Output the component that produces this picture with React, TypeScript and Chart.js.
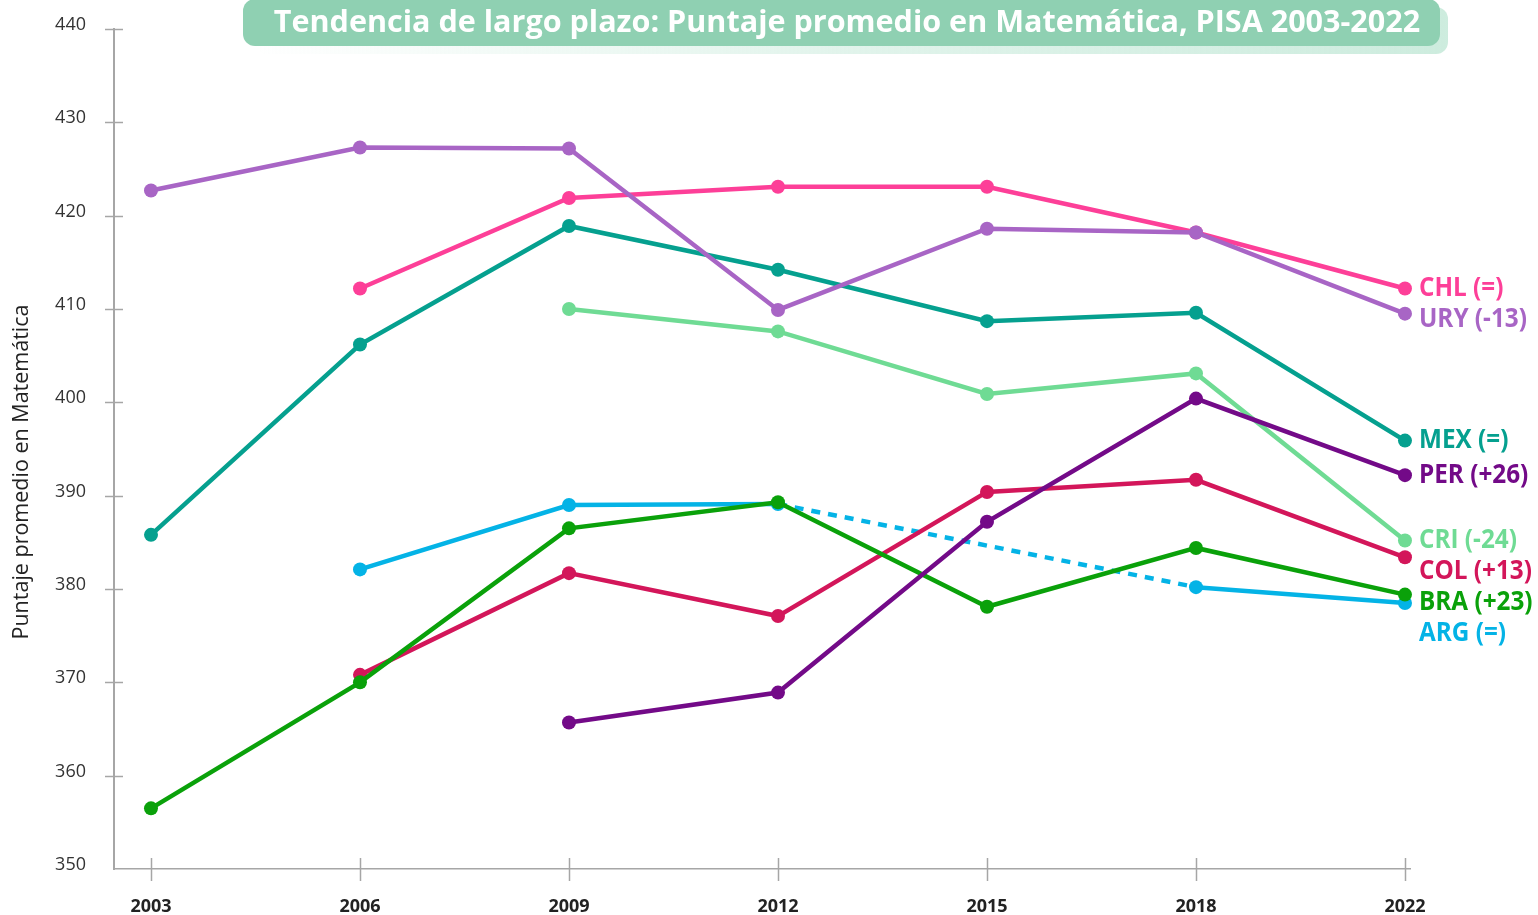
import React, { useEffect, useRef } from "react";
import { Chart, registerables } from "chart.js";

Chart.register(...registerables);

const years = ["2003", "2006", "2009", "2012", "2015", "2018", "2022"];
const countries = ["CHL", "URY", "MEX", "PER", "CRI", "COL", "BRA", "ARG"];
const changes = ["(=)", "(-13)", "(=)", "(+26)", "(-24)", "(+13)", "(+23)", "(=)"];
const colors = ["#fd3f98", "#a865c5", "#05a08f", "#730a88", "#6fdb94", "#d3165a", "#0aa10a", "#04b3e6"];
const drawOrder = [4, 0, 5, 1, 6, 3, 2, 7];

const chl = [null, 412.2, 421.9, 423.1, 423.1, 418.2, 412.2];
const ury = [422.7, 427.3, 427.2, 409.9, 418.6, 418.2, 409.5];
const mex = [385.8, 406.2, 418.9, 414.2, 408.7, 409.6, 395.9];
const per = [null, null, 365.7, 368.9, 387.2, 400.4, 392.2];
const cri = [null, null, 410.0, 407.6, 400.9, 403.1, 385.2];
const col = [null, 370.8, 381.7, 377.1, 390.4, 391.7, 383.4];
const bra = [356.5, 370.0, 386.5, 389.3, 378.1, 384.4, 379.4];
const arg = [null, 382.1, 389.0, 389.1, null, 380.2, 378.5];
const series = [chl, ury, mex, per, cri, col, bra, arg];

const titleText = "Tendencia de largo plazo: Puntaje promedio en Matemática, PISA 2003-2022";
const yTitle = "Puntaje promedio en Matemática";
const yMin = 350;
const yMax = 440;
const yStep = 10;

const titlePlugin = {
  id: "titleBox",
  afterDraw(chart: any) {
    const ctx = chart.ctx as CanvasRenderingContext2D;
    ctx.save();
    const g = ctx.createLinearGradient(250, 0, 1450, 0);
    g.addColorStop(0, "rgba(205,236,222,0)");
    g.addColorStop(0.5, "rgba(205,236,222,0.6)");
    g.addColorStop(1, "rgba(205,236,222,1)");
    ctx.fillStyle = g;
    ctx.beginPath();
    ctx.roundRect(255, 7, 1193, 47, 12);
    ctx.fill();
    ctx.fillStyle = "#8fd0b2";
    ctx.beginPath();
    ctx.roundRect(243, -1, 1197, 47, 12);
    ctx.fill();
    let size = 27;
    ctx.font = `bold ${size}px 'Open Sans'`;
    const w = ctx.measureText(titleText).width;
    size = (size * 1147) / w;
    ctx.font = `bold ${size}px 'Open Sans'`;
    ctx.fillStyle = "#ffffff";
    ctx.textAlign = "center";
    ctx.textBaseline = "middle";
    ctx.fillText(titleText, 847, 23);

    // y-axis title
    ctx.translate(22, 472);
    ctx.rotate(-Math.PI / 2);
    ctx.font = "21.5px 'Open Sans'";
    ctx.fillStyle = "#222222";
    ctx.fillText(yTitle, 0, 0);
    ctx.restore();
  },
};

const tickMarksPlugin = {
  id: "tickMarks",
  beforeDatasetsDraw(chart: any) {
    const { ctx, scales, chartArea } = chart;
    const x = scales.x;
    const y = scales.y;
    ctx.save();
    ctx.strokeStyle = "#a6a6a6";
    ctx.lineWidth = 1.5;
    y.ticks.forEach((t: any) => {
      if (t.value === yMin) return;
      const py = Math.round(y.getPixelForValue(t.value)) + 0.5;
      ctx.beginPath();
      ctx.moveTo(chartArea.left - 9, py);
      ctx.lineTo(chartArea.left + 9, py);
      ctx.stroke();
    });
    x.ticks.forEach((t: any) => {
      const px = Math.round(x.getPixelForValue(t.value)) + 0.5;
      ctx.beginPath();
      ctx.moveTo(px, chartArea.bottom - 11);
      ctx.lineTo(px, chartArea.bottom + 12);
      ctx.stroke();
    });
    ctx.restore();
  },
};

const endLabelPlugin = {
  id: "endLabels",
  afterDatasetsDraw(chart: any) {
    const ctx = chart.ctx as CanvasRenderingContext2D;
    const items = chart.data.datasets
      .map((ds: any, i: number) => {
        const meta = chart.getDatasetMeta(i);
        const pt = meta.data[meta.data.length - 1];
        return { x: pt.x, y: pt.y, text: `${countries[i]} ${changes[i]}`, color: colors[i] };
      })
      .sort((a: any, b: any) => a.y - b.y);
    let prev = -Infinity;
    ctx.save();
    ctx.font = "bold 27px 'Open Sans'";
    ctx.textBaseline = "middle";
    ctx.textAlign = "left";
    for (const it of items) {
      const ly = Math.max(it.y, prev + 31);
      prev = ly;
      ctx.save();
      ctx.translate(it.x + 14, ly);
      ctx.scale(0.9, 1);
      ctx.fillStyle = it.color;
      ctx.fillText(it.text, 0, 0);
      ctx.restore();
    }
    ctx.restore();
  },
};

export default function App() {
  const ref = useRef<HTMLCanvasElement | null>(null);

  useEffect(() => {
    if (!ref.current) return;
    const datasets = series.map((vals, i) => ({
      label: countries[i],
      data: vals.map((v, j) => ({ x: j, y: v })),
      borderColor: colors[i],
      backgroundColor: colors[i],
      pointBackgroundColor: colors[i],
      pointBorderWidth: 0,
      pointRadius: 7,
      borderWidth: 4.5,
      tension: 0,
      clip: false as any,
      order: drawOrder[i],
      spanGaps: true,
      segment: {
        borderDash: (ctx: any) => (ctx.p0.skip || ctx.p1.skip ? [9, 8] : undefined),
      },
    }));

    const chart = new Chart(ref.current, {
      type: "line",
      data: { datasets: datasets as any },
      options: {
        animation: false,
        responsive: false,
        layout: { padding: { left: 0, right: 128, top: 29, bottom: 0 } },
        plugins: {
          legend: { display: false },
          tooltip: { enabled: false },
          title: { display: false },
        },
        scales: {
          x: {
            type: "linear",
            min: -0.177,
            max: 6.024,
            afterBuildTicks: (s: any) => {
              s.ticks = years.map((_, i) => ({ value: i }));
            },
            afterFit: (s: any) => {
              s.height = 46;
              s.paddingLeft = 0;
              s.paddingRight = 0;
            },
            grid: { display: false, drawTicks: false },
            border: { display: true, color: "#a6a6a6", width: 1.5 },
            ticks: {
              callback: (v: any) => years[v] ?? "",
              font: { family: "'Open Sans'", size: 18, weight: "bold" },
              color: "#222222",
              padding: 27,
              autoSkip: false,
              maxRotation: 0,
            },
          },
          y: {
            min: yMin,
            max: yMax,
            afterFit: (s: any) => {
              s.width = 114;
              s.paddingTop = 0;
              s.paddingBottom = 0;
            },
            grid: { display: false, drawTicks: false },
            border: { display: true, color: "#a6a6a6", width: 2 },
            ticks: {
              stepSize: yStep,
              font: { family: "'Open Sans'", size: 18 },
              color: "#333333",
              padding: 28,
              labelOffset: -4,
            },
          },
        },
      } as any,
      plugins: [tickMarksPlugin, endLabelPlugin, titlePlugin],
    });
    return () => chart.destroy();
  }, []);

  return (
    <div style={{ position: "absolute", left: 0, top: 0, width: 1538, height: 915, background: "#fff" }}>
      <canvas ref={ref} width={1538} height={915} style={{ display: "block" }} />
    </div>
  );
}
